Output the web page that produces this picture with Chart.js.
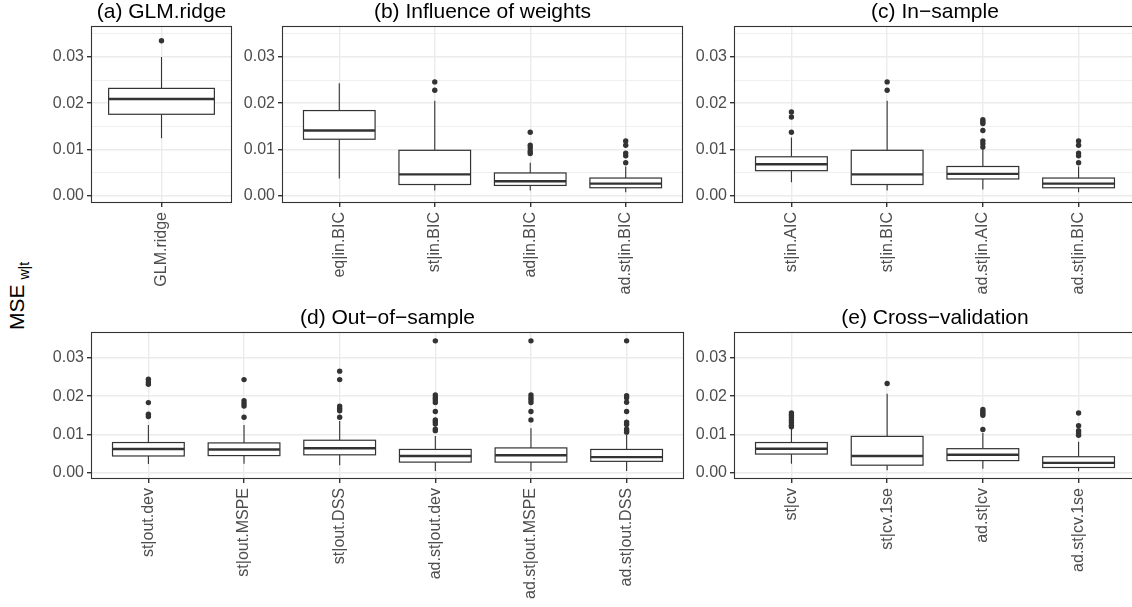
<!DOCTYPE html>
<html>
<head>
<meta charset="utf-8">
<script src="https://cdn.jsdelivr.net/npm/chart.js@4"></script>
<style>
  html, body { margin: 0; padding: 0; background: #fff; overflow: hidden; }
  body { width: 1132px; height: 607px; position: relative; }
  canvas { position: absolute; }
  #ytitle {
    position: absolute; left: -83px; top: 283px; width: 200px; height: 26px;
    line-height: 26px; text-align: center; transform: rotate(-90deg);
    font-family: "Liberation Sans", Arial, sans-serif; font-size: 21px; color: #000;
    white-space: nowrap;
  }
  #ytitle sub { font-size: 14px; margin-left: 5px; }
</style>
</head>
<body>
<div id="ytitle">MSE<sub>w|t</sub></div>
<canvas id="pa" width="200" height="303" style="left:36px;top:0px"></canvas>
<canvas id="pb" width="460" height="303" style="left:227px;top:0px"></canvas>
<canvas id="pc" width="461" height="303" style="left:679px;top:0px"></canvas>
<canvas id="pd" width="652" height="298" style="left:36px;top:306px"></canvas>
<canvas id="pe" width="461" height="298" style="left:679px;top:306px"></canvas>
<script>
// (a) GLM.ridge
const glmCats = ['GLM.ridge'];
const glmLow  = [0.0124];
const glmQ1   = [0.0176];
const glmMed  = [0.0209];
const glmQ3   = [0.0232];
const glmHigh = [0.0300];
const glmOut  = [[0.0335]];

// (b) Influence of weights
const wCats = ['eq|in.BIC', 'st|in.BIC', 'ad|in.BIC', 'ad.st|in.BIC'];
const wLow  = [0.0037, 0.0011, 0.0011, 0.0007];
const wQ1   = [0.0122, 0.0024, 0.0022, 0.0017];
const wMed  = [0.0141, 0.0046, 0.0031, 0.0026];
const wQ3   = [0.0184, 0.0098, 0.0049, 0.0038];
const wHigh = [0.0243, 0.0205, 0.0071, 0.0063];
const wOut  = [[], [0.0246, 0.0228], [0.0137, 0.0109, 0.0103, 0.0096, 0.0091], [0.0118, 0.0109, 0.0092, 0.0086, 0.0071]];

// (c) In-sample
const inCats = ['st|in.AIC', 'st|in.BIC', 'ad.st|in.AIC', 'ad.st|in.BIC'];
const inLow  = [0.0029, 0.0011, 0.0013, 0.0007];
const inQ1   = [0.0054, 0.0024, 0.0036, 0.0017];
const inMed  = [0.0068, 0.0046, 0.0047, 0.0026];
const inQ3   = [0.0084, 0.0098, 0.0063, 0.0038];
const inHigh = [0.0126, 0.0205, 0.0102, 0.0063];
const inOut  = [[0.0181, 0.0170, 0.0137], [0.0246, 0.0228], [0.0164, 0.0160, 0.0156, 0.0141, 0.0118, 0.0112, 0.0105], [0.0118, 0.0109, 0.0092, 0.0086, 0.0071]];

// (d) Out-of-sample
const outCats = ['st|out.dev', 'st|out.MSPE', 'st|out.DSS', 'ad.st|out.dev', 'ad.st|out.MSPE', 'ad.st|out.DSS'];
const outLow  = [0.0023, 0.0024, 0.0020, 0.0005, 0.0005, 0.0005];
const outQ1   = [0.0044, 0.0045, 0.0047, 0.0028, 0.0028, 0.0030];
const outMed  = [0.0062, 0.0061, 0.0064, 0.0044, 0.0046, 0.0041];
const outQ3   = [0.0079, 0.0078, 0.0085, 0.0061, 0.0065, 0.0061];
const outHigh = [0.0125, 0.0125, 0.0135, 0.0096, 0.0116, 0.0100];
const outOut  = [
  [0.0244, 0.0237, 0.0231, 0.0183, 0.0153, 0.0147],
  [0.0243, 0.0188, 0.0181, 0.0174, 0.0145],
  [0.0265, 0.0243, 0.0174, 0.0168, 0.0162, 0.0145],
  [0.0344, 0.0203, 0.0196, 0.0190, 0.0183, 0.0160, 0.0138, 0.0133, 0.0127, 0.0114, 0.0110],
  [0.0344, 0.0203, 0.0196, 0.0190, 0.0183, 0.0160, 0.0138],
  [0.0344, 0.0201, 0.0196, 0.0184, 0.0160, 0.0132, 0.0126, 0.0114, 0.0110, 0.0106]
];

// (e) Cross-validation
const cvCats = ['st|cv', 'st|cv.1se', 'ad.st|cv', 'ad.st|cv.1se'];
const cvLow  = [0.0024, 0.0007, 0.0011, 0.0004];
const cvQ1   = [0.0049, 0.0020, 0.0032, 0.0014];
const cvMed  = [0.0063, 0.0044, 0.0047, 0.0026];
const cvQ3   = [0.0079, 0.0095, 0.0063, 0.0042];
const cvHigh = [0.0115, 0.0206, 0.0104, 0.0081];
const cvOut  = [[0.0156, 0.0150, 0.0144, 0.0137, 0.0131, 0.0124, 0.0120], [0.0233], [0.0165, 0.0160, 0.0155, 0.0150, 0.0113], [0.0156, 0.0123, 0.0110, 0.0104, 0.0098]];

const yTicks = [0, 0.005, 0.01, 0.015, 0.02, 0.025, 0.03, 0.035];
const yMin = -0.0016, yMax = 0.0367;

const FONT = '"Liberation Sans", Arial, sans-serif';
const INK = '#333333';
const GRID = '#EBEBEB';

const isMajor = v => Math.round(v * 1000) % 10 === 0;

// draws whiskers, boxes and medians through the chart scales
const boxPlugin = {
  id: 'boxes',
  beforeDatasetsDraw(chart, args, opts) {
    const { ctx, scales: { x, y } } = chart;
    const half = x.getPixelForValue(1.375) - x.getPixelForValue(1);
    ctx.save();
    ctx.strokeStyle = INK;
    opts.low.forEach((lo, i) => {
      const cx = x.getPixelForValue(i + 1);
      const pLo = y.getPixelForValue(lo), pQ1 = y.getPixelForValue(opts.q1[i]);
      const pMed = y.getPixelForValue(opts.med[i]);
      const pQ3 = y.getPixelForValue(opts.q3[i]), pHi = y.getPixelForValue(opts.high[i]);
      ctx.lineWidth = 1.1;
      ctx.beginPath();
      ctx.moveTo(cx, pLo); ctx.lineTo(cx, pQ1);
      ctx.moveTo(cx, pQ3); ctx.lineTo(cx, pHi);
      ctx.stroke();
      ctx.fillStyle = '#fff';
      ctx.lineWidth = 1.2;
      ctx.fillRect(cx - half, pQ3, 2 * half, pQ1 - pQ3);
      ctx.strokeRect(cx - half, pQ3, 2 * half, pQ1 - pQ3);
      ctx.lineWidth = 2.4;
      ctx.beginPath();
      ctx.moveTo(cx - half, pMed); ctx.lineTo(cx + half, pMed);
      ctx.stroke();
    });
    ctx.restore();
  },
  afterDatasetsDraw(chart) {
    const { ctx, chartArea: a } = chart;
    ctx.save();
    ctx.strokeStyle = INK;
    ctx.lineWidth = 1.1;
    ctx.strokeRect(a.left + 0.5, a.top + 0.5, a.right - a.left - 1, a.bottom - a.top - 1);
    ctx.restore();
  }
};

function makePanel(id, title, cats, low, q1, med, q3, high, outs, xAxisH, xMin, xMax) {
  const pts = [];
  outs.forEach((list, i) => list.forEach(v => pts.push({ x: i + 1, y: v })));
  new Chart(document.getElementById(id), {
    type: 'scatter',
    data: {
      datasets: [{
        data: pts,
        pointRadius: 2.7,
        pointBackgroundColor: INK,
        pointBorderWidth: 0,
        pointHoverRadius: 2.7
      }]
    },
    options: {
      responsive: false,
      animation: false,
      events: [],
      layout: { padding: { left: 0, right: 4, top: 0, bottom: 0 } },
      plugins: {
        legend: { display: false },
        tooltip: { enabled: false },
        title: {
          display: true,
          text: title,
          fullSize: false,
          color: '#000',
          font: { family: FONT, size: 21, weight: 'normal', lineHeight: 1.1 },
          padding: { top: 1, bottom: 1.9 }
        },
        boxes: { low, q1, med, q3, high }
      },
      scales: {
        x: {
          type: 'linear',
          min: xMin,
          max: xMax,
          afterBuildTicks: s => { s.ticks = cats.map((c, i) => ({ value: i + 1 })); },
          afterFit: s => { s.height = xAxisH; },
          border: { display: false },
          grid: { color: GRID, lineWidth: 1.4, tickColor: INK, tickLength: 4, drawTicks: true },
          ticks: {
            autoSkip: false,
            minRotation: 90,
            maxRotation: 90,
            padding: 5,
            color: '#4D4D4D',
            font: { family: FONT, size: 16 },
            callback: v => cats[Math.round(v) - 1]
          }
        },
        y: {
          min: yMin,
          max: yMax,
          afterBuildTicks: s => { s.ticks = yTicks.map(v => ({ value: v })); },
          afterFit: s => { s.width = 55; },
          border: { display: false },
          grid: {
            color: GRID,
            lineWidth: c => isMajor(c.tick.value) ? 1.4 : 0.8,
            tickColor: c => isMajor(c.tick.value) ? INK : 'rgba(0,0,0,0)',
            tickLength: 4
          },
          ticks: {
            padding: 3,
            color: '#4D4D4D',
            font: { family: FONT, size: 16 },
            callback: v => isMajor(v) ? v.toFixed(2) : ''
          }
        }
      }
    },
    plugins: [boxPlugin]
  });
}

makePanel('pa', '(a) GLM.ridge', glmCats, glmLow, glmQ1, glmMed, glmQ3, glmHigh, glmOut, 100, 0.5, 1.5);
makePanel('pb', '(b) Influence of weights', wCats, wLow, wQ1, wMed, wQ3, wHigh, wOut, 100, 0.4, 4.6);
makePanel('pc', '(c) In\u2212sample', inCats, inLow, inQ1, inMed, inQ3, inHigh, inOut, 100, 0.4, 4.6);
makePanel('pd', '(d) Out\u2212of\u2212sample', outCats, outLow, outQ1, outMed, outQ3, outHigh, outOut, 125, 0.4, 6.6);
makePanel('pe', '(e) Cross\u2212validation', cvCats, cvLow, cvQ1, cvMed, cvQ3, cvHigh, cvOut, 125, 0.4, 4.6);
</script>
</body>
</html>
